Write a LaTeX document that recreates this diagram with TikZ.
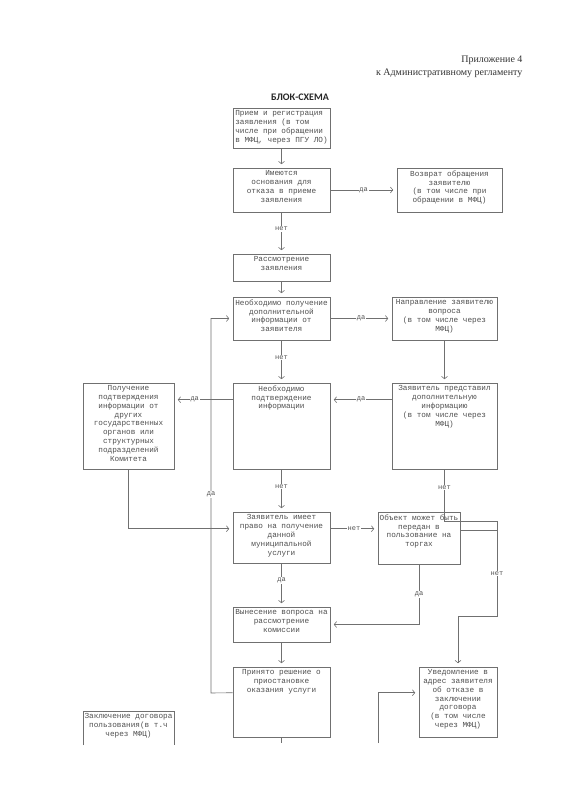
\documentclass[tikz,border=0pt]{standalone}
\usepackage{fontspec}
\setmainfont{Liberation Serif}
\setmonofont{Liberation Mono}
\newfontfamily\titlefont{Carlito}
\usetikzlibrary{arrows.meta}
\definecolor{linec}{HTML}{707070}
\definecolor{txtc}{HTML}{505050}
\newcommand\mkbox[7]{%
  \node[box, minimum width={(#4-#2)*1pt}, minimum height={(#5-#3)*1pt}] (#1) at ({(#2+#4)/2},{(#3+#5)/2}) {};
  \node[txt,#7] (#1t) at ({(#2+#4)/2},{#3+1.5}) {#6};}
\begin{document}
\begin{tikzpicture}[x=1pt,y=-1pt,
  box/.style={draw=linec, line width=0.6pt, inner sep=0pt},
  txt/.style={font=\ttfamily\fontsize{7.7}{8.8}\selectfont, text=txtc, align=center, inner sep=1pt, anchor=north},
  conn/.style={draw=linec, line width=0.6pt},
  arr/.style={conn, -{Straight Barb[length=2.5pt,width=6pt]}, shorten >=3.5pt},
  lab/.style={font=\ttfamily\fontsize{7}{8}\selectfont, text=txtc, fill=white, inner sep=0.8pt}
]
\fill[white] (0,0) rectangle (564,800);
\useasboundingbox (0,0) rectangle (564,800);

\node[anchor=east, font=\fontsize{10}{12}\selectfont, text=black!80] (h1) at (526,60) {Приложение 4};
\node[anchor=east, font=\fontsize{10}{12}\selectfont, text=black!80] (h2) at (526,73) {к Административному регламенту};
\node[font=\titlefont\bfseries\fontsize{10}{12}\selectfont, text=black!85] (title) at (300,97) {БЛОК-СХЕМА};

\mkbox{b1}{233}{108}{330}{148}{Прием и регистрация\\заявления (в том\\числе при обращении\\в МФЦ, через ПГУ ЛО)}{align=left}
\mkbox{b2}{233}{168}{330}{212}{Имеются\\основания для\\отказа в приеме\\заявления}{}
\mkbox{b3}{397}{168}{502}{212}{Возврат обращения\\заявителю\\(в том числе при\\обращении в МФЦ)}{}
\mkbox{b4}{233}{254}{330}{281}{Рассмотрение\\заявления}{}
\mkbox{b5}{233}{297}{330}{340}{Необходимо получение\\дополнительной\\информации от\\заявителя}{}
\mkbox{b6}{392}{297}{497}{340}{Направление заявителю\\вопроса\\(в том числе через\\МФЦ)}{}
\mkbox{b7}{83}{383}{174}{469}{Получение\\подтверждения\\информации от\\других\\государственных\\органов или\\структурных\\подразделений\\Комитета}{}
\mkbox{b8}{233}{383}{330}{469}{Необходимо\\подтверждение\\информации}{}
\mkbox{b9}{392}{383}{497}{469}{Заявитель представил\\дополнительную\\информацию\\(в том числе через\\МФЦ)}{}
\mkbox{b10}{233}{512}{330}{563}{Заявитель имеет\\право на получение\\данной\\муниципальной\\услуги}{}
\mkbox{b11}{378}{512}{460}{564}{Объект может быть\\передан в\\пользование на\\торгах}{}
\mkbox{b12}{233}{607}{330}{642}{Вынесение вопроса на\\рассмотрение\\комиссии}{}
\mkbox{b13}{233}{667}{330}{737}{Принято решение о\\приостановке\\оказания услуги}{}
\mkbox{b14}{419}{667}{497}{737}{Уведомление в\\адрес заявителя\\об отказе в\\заключении\\договора\\(в том числе\\через МФЦ)}{}

% open-bottom box
\coordinate (k1) at (83,745);
\coordinate (k2) at (83,711);
\coordinate (k3) at (174,711);
\coordinate (k4) at (174,745);
\draw[conn] (k1) -- (k2) -- (k3) -- (k4);
\node[txt] (b15t) at (128.5,712.5) {Заключение договора\\пользования(в т.ч\\через МФЦ)};

% helper coordinates
\coordinate (c1) at (497,521);
\coordinate (c2) at (497,530);
\coordinate (c3) at (497,616);
\coordinate (d1) at (211,693);
\coordinate (d2) at (211,318.5);
\coordinate (e1) at ([yshift=-17pt]b10.north west);
\coordinate (e2) at ([yshift=-17pt]b11.north west);
\coordinate (f1) at (0,743);
\coordinate (g1) at (378,743);
\coordinate (g2) at ([yshift=-26pt]b14.north west);

% connectors
\draw[arr] (b1.south) -- (b1.south |- b2.north);
\draw[arr] (b2.east) -- node[lab]{да} (b3.west);
\draw[arr] (b2.south) -- node[lab,pos=.4]{нет} (b2.south |- b4.north);
\draw[arr] (b4.south) -- (b4.south |- b5.north);
\draw[arr] (b5.east) -- node[lab]{да} (b5.east -| b6.west);
\draw[arr] (b5.south) -- node[lab,pos=.4]{нет} (b5.south |- b8.north);
\draw[arr] (b6.south) -- (b6.south |- b9.north);
\draw[arr] ([yshift=-17pt]b9.north west) -- node[lab]{да} ([yshift=-17pt]b8.north east);
\draw[arr] ([yshift=-17pt]b8.north west) -- node[lab,pos=.65]{да} ([yshift=-17pt]b7.north east);
\draw[arr] (b8.south) -- node[lab,pos=.4]{нет} (b8.south |- b10.north);
\draw[conn] (b9.south) -- node[lab,pos=.35]{нет} (b9.south |- c1) -- (c1);
\draw[arr] (e1 -| b10.east) -- node[lab]{нет} (e2);
\draw[conn] (b11.east |- c2) -- (c2);
\draw[arr] (c1) -- node[lab,pos=.55]{нет} (c3) -- (c3 -| b14.north) -- (b14.north);
\draw[arr] (b11.south) -- node[lab,pos=.5]{да} (b11.south |- b12.east) -- (b12.east);
\draw[arr] (b10.south) -- node[lab,pos=.4]{да} (b10.south |- b12.north);
\draw[arr] (b12.south) -- (b12.south |- b13.north);
\draw[arr] ([yshift=-26pt]b13.north west) -- (d1) -- node[lab,pos=.53]{да} (d2) -- (b5.west);
\draw[arr] (b7.south) -- (b7.south |- e1) -- (e1);
\draw[conn] (b13.south) -- (b13.south |- f1);
\draw[arr] (g1) -- (g1 |- g2) -- (g2);
\end{tikzpicture}
\end{document}
